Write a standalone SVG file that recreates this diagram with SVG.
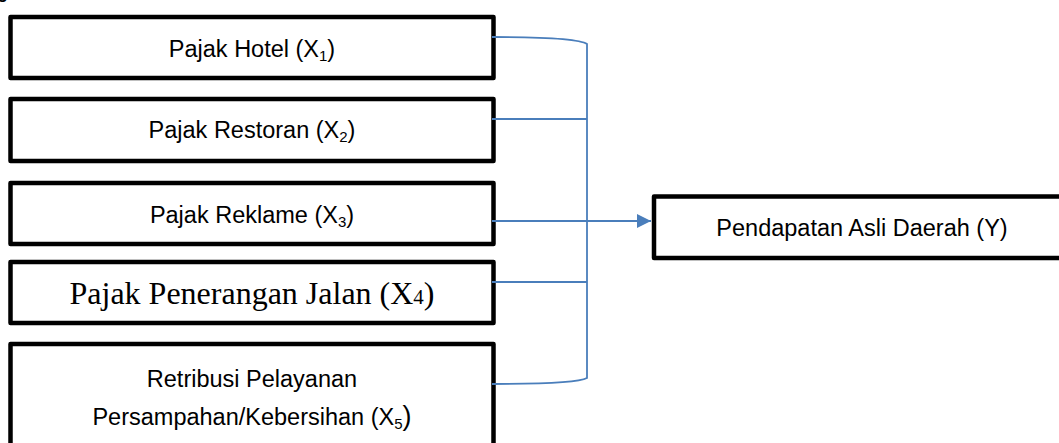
<svg xmlns="http://www.w3.org/2000/svg" width="1059" height="443" viewBox="0 0 1059 443">
<defs>
<style>
.box{fill:#fff;stroke:#000;stroke-width:4.5;stroke-linejoin:round}
.t{font-family:"Liberation Sans",Arial,sans-serif;font-size:23.5px;fill:#000;text-anchor:middle}
.tt{font-family:"Liberation Serif","Times New Roman",serif;font-size:32px;fill:#000;text-anchor:middle}
.sub{font-size:15px}
.con{fill:none;stroke:#4a7ebb;stroke-width:1.8}
</style>
<marker id="arr" viewBox="0 0 10 10" refX="10" refY="5" markerWidth="15" markerHeight="14" markerUnits="userSpaceOnUse" orient="auto">
<path d="M0,0 L10,5 L0,10 z" fill="#4a7ebb"/>
</marker>
</defs>
<rect width="1059" height="443" fill="#fff"/>
<text x="-3" y="-2" style="font-family:'Liberation Sans',Arial,sans-serif;font-size:18px;font-weight:bold">g</text>
<g id="n1">
<rect class="box" x="10.5" y="17" width="483" height="61"/>
<text class="t" x="252" y="57">Pajak Hotel (X<tspan class="sub" dy="4">1</tspan><tspan dy="-4">)</tspan></text>
</g>
<g id="n2">
<rect class="box" x="10.5" y="99" width="483" height="62"/>
<text class="t" x="252" y="138">Pajak Restoran (X<tspan class="sub" dy="4">2</tspan><tspan dy="-4">)</tspan></text>
</g>
<g id="n3">
<rect class="box" x="10.5" y="183" width="483" height="61"/>
<text class="t" x="252" y="223">Pajak Reklame (X<tspan class="sub" dy="4">3</tspan><tspan dy="-4">)</tspan></text>
</g>
<g id="n4">
<rect class="box" x="10.5" y="262" width="483" height="61"/>
<text class="tt" x="252" y="304">Pajak Penerangan Jalan (X<tspan style="font-size:21px">4</tspan>)</text>
</g>
<g id="n5">
<rect class="box" x="10.5" y="344" width="483" height="120"/>
<text class="t" x="252" y="387">Retribusi Pelayanan</text>
<text class="t" x="252" y="425">Persampahan/Kebersihan (X<tspan class="sub" dy="4">5</tspan><tspan dy="-4" style="font-size:27px">)</tspan></text>
</g>
<g id="y">
<rect class="box" x="654" y="196.5" width="420" height="61.5"/>
<text class="t" x="862" y="236">Pendapatan Asli Daerah (Y)</text>
</g>
<g id="connectors">
<path class="con" d="M492,37 C545,37 580,39 587,44 L587,378 C580,382 545,384 492,384"/>
<path class="con" d="M492,119 H587"/>
<path class="con" d="M492,282 H587"/>
<path class="con" d="M492,221 H651" marker-end="url(#arr)"/>
</g>
</svg>
